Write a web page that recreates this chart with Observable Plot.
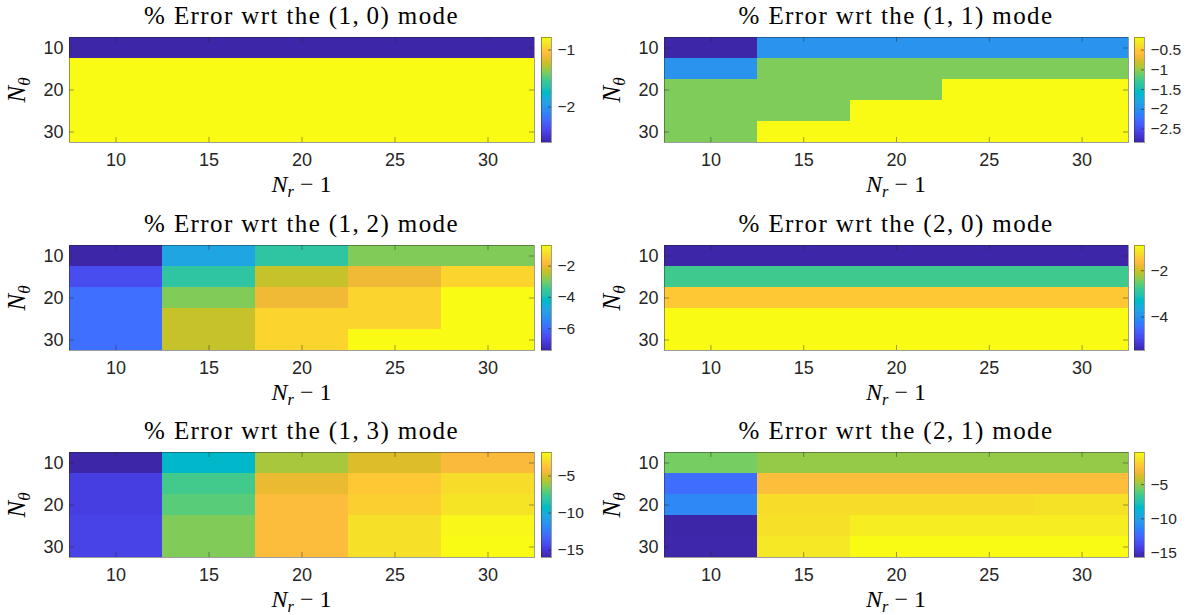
<!DOCTYPE html>
<html><head><meta charset="utf-8">
<script src="https://cdn.jsdelivr.net/npm/d3@7"></script>
<script src="https://cdn.jsdelivr.net/npm/@observablehq/plot@0.6"></script>
<style>
body{margin:0;background:#fff;}
#root{position:relative;width:1193px;height:615px;overflow:hidden;background:#fff;}
.title{position:absolute;font-family:"Liberation Serif","Times New Roman","DejaVu Serif",serif;font-size:25px;line-height:20px;color:#000;white-space:nowrap;transform:translateX(-50%);letter-spacing:1.4px;}
.lab{position:absolute;font-family:"Liberation Serif","Times New Roman","DejaVu Serif",serif;font-size:24px;line-height:18px;color:#000;white-space:nowrap;}
.it{font-style:italic;}
.sub{font-size:0.68em;font-style:italic;position:relative;top:0.32em;}
</style></head><body><div id="root"></div><script>
// ---------------- data ----------------
const nrMinus1 = [10, 15, 20, 25, 30];      // x categories (N_r - 1)
const nTheta   = [10, 15, 20, 25, 30];      // y categories (N_theta)
const xTickLabels = [10, 15, 20, 25, 30];
const yTickLabels = [10, 20, 30];
const modes = [[1,0],[1,1],[1,2],[2,0],[1,3],[2,1]];

// rows: N_theta = 10..30 ; columns: N_r-1 = 10..30  (% error)
const err_1_0 = [
  [-2.62,-2.62,-2.62,-2.62,-2.62],
  [-0.78,-0.78,-0.78,-0.78,-0.78],
  [-0.78,-0.78,-0.78,-0.78,-0.78],
  [-0.78,-0.78,-0.78,-0.78,-0.78],
  [-0.78,-0.78,-0.78,-0.78,-0.78]];
const err_1_1 = [
  [-2.84,-1.98,-1.98,-1.98,-1.98],
  [-1.98,-1.07,-1.07,-1.07,-1.07],
  [-1.07,-1.07,-1.07,-0.18,-0.18],
  [-1.07,-1.07,-0.18,-0.18,-0.18],
  [-1.07,-0.18,-0.18,-0.18,-0.18]];
const err_1_2 = [
  [-7.40,-4.85,-3.70,-2.92,-2.92],
  [-6.55,-3.70,-2.39,-1.96,-1.35],
  [-5.91,-2.92,-1.96,-1.35,-0.68],
  [-5.91,-2.39,-1.35,-1.35,-0.68],
  [-5.91,-2.39,-1.35,-0.68,-0.68]];
const err_2_0 = [
  [-5.45,-5.45,-5.45,-5.45,-5.45],
  [-2.79,-2.79,-2.79,-2.79,-2.79],
  [-1.50,-1.50,-1.50,-1.50,-1.50],
  [-0.91,-0.91,-0.91,-0.91,-0.91],
  [-0.91,-0.91,-0.91,-0.91,-0.91]];
const err_1_3 = [
  [-16.00,-9.48,-5.94,-4.95,-4.24],
  [-14.80,-7.64,-4.66,-3.67,-2.96],
  [-14.80,-7.21,-4.17,-3.39,-2.68],
  [-14.58,-6.55,-4.17,-2.82,-1.97],
  [-14.58,-6.55,-4.17,-2.82,-1.83]];
const err_2_1 = [
  [-5.60,-5.06,-5.06,-5.06,-5.06],
  [-12.27,-2.76,-2.76,-2.76,-2.76],
  [-11.20,-1.53,-1.53,-1.53,-1.30],
  [-15.65,-1.37,-0.84,-0.84,-0.84],
  [-15.60,-1.07,-0.30,-0.30,-0.30]];
const errors = [err_1_0, err_1_1, err_1_2, err_2_0, err_1_3, err_2_1];

const cbTicks_1_0 = [-2, -1];
const cbTicks_1_1 = [-2.5, -2, -1.5, -1, -0.5];
const cbTicks_1_2 = [-6, -4, -2];
const cbTicks_2_0 = [-4, -2];
const cbTicks_1_3 = [-15, -10, -5];
const cbTicks_2_1 = [-15, -10, -5];
const cbTicks = [cbTicks_1_0, cbTicks_1_1, cbTicks_1_2, cbTicks_2_0, cbTicks_1_3, cbTicks_2_1];

// MATLAB parula colormap (64 entries)
const parulaRGB = [
[0.2422,0.1504,0.6603],[0.2504,0.1650,0.7076],[0.2578,0.1818,0.7511],[0.2647,0.1978,0.7952],
[0.2706,0.2147,0.8364],[0.2751,0.2342,0.8710],[0.2783,0.2559,0.8991],[0.2803,0.2782,0.9221],
[0.2813,0.3006,0.9414],[0.2810,0.3228,0.9579],[0.2795,0.3447,0.9717],[0.2760,0.3667,0.9829],
[0.2699,0.3892,0.9906],[0.2602,0.4123,0.9952],[0.2440,0.4358,0.9988],[0.2206,0.4603,0.9973],
[0.1963,0.4847,0.9892],[0.1834,0.5074,0.9798],[0.1786,0.5289,0.9682],[0.1764,0.5499,0.9520],
[0.1687,0.5703,0.9359],[0.1540,0.5902,0.9218],[0.1460,0.6091,0.9079],[0.1380,0.6276,0.8973],
[0.1248,0.6459,0.8883],[0.1113,0.6635,0.8763],[0.0952,0.6798,0.8598],[0.0689,0.6948,0.8394],
[0.0297,0.7082,0.8163],[0.0036,0.7203,0.7917],[0.0067,0.7312,0.7660],[0.0433,0.7411,0.7394],
[0.0964,0.7500,0.7120],[0.1408,0.7584,0.6842],[0.1717,0.7670,0.6554],[0.1938,0.7758,0.6251],
[0.2161,0.7843,0.5923],[0.2470,0.7918,0.5567],[0.2906,0.7973,0.5188],[0.3406,0.8008,0.4789],
[0.3909,0.8029,0.4354],[0.4456,0.8024,0.3909],[0.5044,0.7993,0.3480],[0.5616,0.7942,0.3045],
[0.6174,0.7876,0.2612],[0.6720,0.7793,0.2227],[0.7242,0.7698,0.1910],[0.7738,0.7598,0.1646],
[0.8203,0.7498,0.1535],[0.8634,0.7406,0.1596],[0.9035,0.7330,0.1774],[0.9393,0.7288,0.2100],
[0.9728,0.7298,0.2394],[0.9956,0.7434,0.2371],[0.9970,0.7659,0.2199],[0.9952,0.7893,0.2028],
[0.9892,0.8136,0.1885],[0.9786,0.8386,0.1766],[0.9676,0.8639,0.1643],[0.9610,0.8890,0.1537],
[0.9597,0.9135,0.1423],[0.9628,0.9373,0.1265],[0.9691,0.9606,0.1064],[0.9769,0.9839,0.0805]];
const parulaColors = parulaRGB.map(c => d3.rgb(c[0]*255, c[1]*255, c[2]*255).formatHex());
const parulaInterp = d3.piecewise(d3.interpolateRgb, parulaColors);
const parula = t => parulaInterp(Math.max(0, Math.min(1, t)));

// ---------------- layout ----------------
const root = document.getElementById("root");
const frameLeft = [69, 664];
const frameWidth = [465, 464];
const frameTop = [37, 245, 452];
const frameH = 105;
const MT = 10, MB = 45, ML = 69, MR = 10;
const cbLeft = [541, 1134];
const cbW = 10;
const tickLen = 5;
const axisColor = "#262626";
const fmt = d => (d < 0 ? "\u2212" : "") + Math.abs(d);

errors.forEach((mat, k) => {
  const col = k % 2, row = Math.floor(k / 2);
  const data = [];
  nTheta.forEach((y, i) => nrMinus1.forEach((x, j) => data.push({x, y, v: mat[i][j]})));
  const dx = nrMinus1[1] - nrMinus1[0], dy = nTheta[1] - nTheta[0];
  const xDom = [nrMinus1[0] - dx/2, nrMinus1[nrMinus1.length-1] + dx/2];
  const yDom = [nTheta[0] - dy/2, nTheta[nTheta.length-1] + dy/2];
  const ext = d3.extent(data, d => d.v);
  const fw = frameWidth[col];
  const heat = Plot.plot({
    width: ML + fw + MR, height: MT + frameH + MB,
    marginLeft: ML, marginRight: MR, marginTop: MT, marginBottom: MB,
    x: {domain: xDom},
    y: {domain: yDom, reverse: true},
    color: {type: "linear", domain: ext, interpolate: parula},
    style: {background: "transparent", fontFamily: "'Liberation Sans', Arial, sans-serif", fontSize: "18px", color: axisColor, overflow: "visible"},
    marks: [
      Plot.rect(data, {x1: d => d.x - dx/2, x2: d => d.x + dx/2, y1: d => d.y - dy/2, y2: d => d.y + dy/2, fill: "v", shapeRendering: "crispEdges"}),
      Plot.frame({stroke: axisColor, strokeOpacity: 0.45}),
      Plot.tickX(xTickLabels, {x: d => d, insetTop: frameH - tickLen, stroke: axisColor, strokeOpacity: 0.45}),
      Plot.tickX(xTickLabels, {x: d => d, insetBottom: frameH - tickLen, stroke: axisColor, strokeOpacity: 0.45}),
      Plot.tickY(yTickLabels, {y: d => d, insetRight: fw - tickLen, stroke: axisColor, strokeOpacity: 0.45}),
      Plot.tickY(yTickLabels, {y: d => d, insetLeft: fw - tickLen, stroke: axisColor, strokeOpacity: 0.45}),
      Plot.axisX({ticks: xTickLabels, tickSize: 0, tickPadding: 11, label: null, tickFormat: d => String(d), fontSize: 18}),
      Plot.axisY({ticks: yTickLabels, tickSize: 0, tickPadding: 6, label: null, tickFormat: d => String(d), fontSize: 18})
    ]
  });
  heat.style.position = "absolute";
  heat.style.left = (frameLeft[col] - ML) + "px";
  heat.style.top = (frameTop[row] - MT) + "px";
  root.appendChild(heat);

  // colorbar
  const n = 128;
  const ramp = d3.range(n).map(i => {
    const a = ext[0] + (ext[1] - ext[0]) * i / n, b = ext[0] + (ext[1] - ext[0]) * (i + 1) / n;
    return {a, b, v: (a + b) / 2};
  });
  const cb = Plot.plot({
    width: 2 + cbW + 48, height: MT + frameH + MB,
    marginLeft: 2, marginRight: 48, marginTop: MT, marginBottom: MB,
    x: {domain: [0, 1], axis: null},
    y: {domain: ext},
    color: {type: "linear", domain: ext, interpolate: parula},
    style: {background: "transparent", fontFamily: "'Liberation Sans', Arial, sans-serif", fontSize: "15.5px", color: axisColor, overflow: "visible"},
    marks: [
      Plot.rect(ramp, {x1: 0, x2: 1, y1: "a", y2: "b", fill: "v", shapeRendering: "crispEdges"}),
      Plot.frame({stroke: axisColor, strokeOpacity: 0.45}),
      Plot.tickY(cbTicks[k], {y: d => d, insetLeft: cbW - 3, stroke: axisColor, strokeOpacity: 0.6}),
      Plot.axisY({anchor: "right", ticks: cbTicks[k], tickSize: 0, tickPadding: 6, label: null, tickFormat: fmt, fontSize: 15.5})
    ]
  });
  cb.style.position = "absolute";
  cb.style.left = (cbLeft[col] - 2) + "px";
  cb.style.top = (frameTop[row] - MT) + "px";
  root.appendChild(cb);

  // title
  const cx = frameLeft[col] + fw / 2;
  const t = document.createElement("div");
  t.className = "title";
  t.innerHTML = `% Error wrt the (${modes[k][0]},&thinsp;${modes[k][1]}) mode`;
  t.style.left = cx + "px";
  t.style.top = (frameTop[row] - 31) + "px";
  root.appendChild(t);

  // x label
  const xl = document.createElement("div");
  xl.className = "lab";
  xl.innerHTML = `<span class="it">N</span><span class="sub">r</span>&nbsp;\u2212&nbsp;1`;
  xl.style.left = cx + "px";
  xl.style.top = (frameTop[row] + frameH + 33) + "px";
  xl.style.transform = "translateX(-50%)";
  root.appendChild(xl);

  // y label
  const yl = document.createElement("div");
  yl.className = "lab";
  yl.style.fontSize = "25px";
  yl.innerHTML = `<span class="it">N</span><span class="sub">\u03b8</span>`;
  yl.style.left = (frameLeft[col] - 51) + "px";
  yl.style.top = (frameTop[row] + frameH / 2) + "px";
  yl.style.transform = "translate(-50%,-50%) rotate(-90deg)";
  root.appendChild(yl);
});
</script></body></html>
